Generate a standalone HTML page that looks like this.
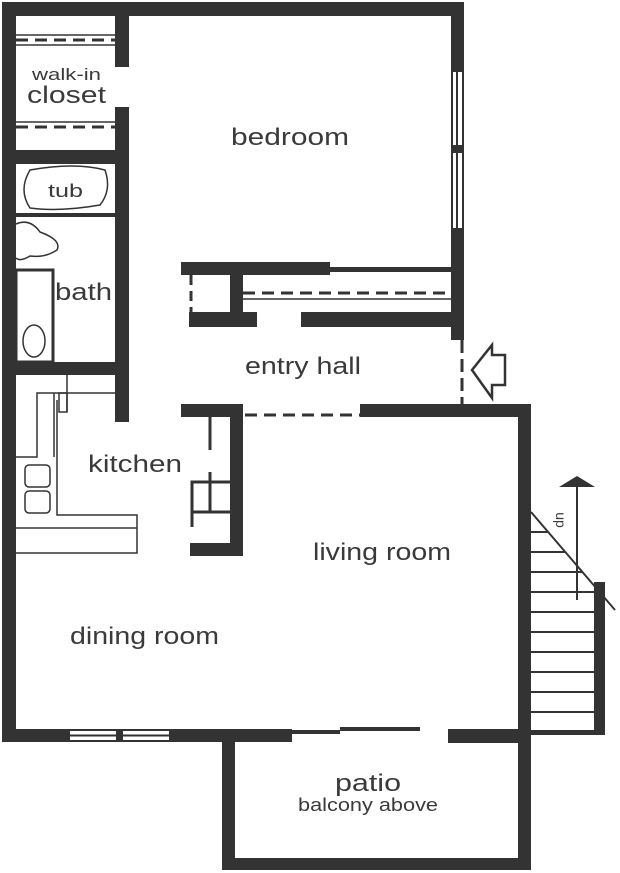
<!DOCTYPE html>
<html><head><style>body{margin:0;background:#fff}svg{display:block}text{font-family:"Liberation Sans",sans-serif;fill:#3a3a3a}</style></head>
<body>
<svg width="620" height="873" viewBox="0 0 620 873">
<g fill="#333">
<rect x="2" y="2" width="462" height="14"/>
<rect x="2" y="2" width="14" height="740"/>
<rect x="451" y="2" width="13" height="338"/>
<rect x="115" y="2" width="14" height="65"/>
<rect x="115" y="107" width="14" height="315"/>
<rect x="16" y="150" width="100" height="14"/>
<rect x="16" y="362" width="100" height="13"/>
<rect x="181" y="262" width="149" height="13"/>
<rect x="230" y="262" width="13" height="65"/>
<rect x="189" y="312" width="68" height="15"/>
<rect x="301" y="312" width="150" height="15"/>
<rect x="330" y="267" width="121" height="5"/>
<rect x="360" y="404" width="171" height="13"/>
<rect x="181" y="404" width="62" height="13"/>
<rect x="230" y="404" width="13" height="152"/>
<rect x="190" y="543" width="53" height="13"/>
<rect x="518" y="404" width="13" height="466"/>
<rect x="2" y="729" width="290" height="13"/>
<rect x="222" y="729" width="13" height="141"/>
<rect x="222" y="858" width="309" height="12"/>
<rect x="448" y="729" width="83" height="14"/>
<rect x="292" y="730" width="48" height="4"/>
<rect x="340" y="727" width="80" height="4"/>
<rect x="594" y="582" width="11" height="153"/>
<rect x="531" y="730" width="74" height="5"/>
</g>
<g fill="#fff"><rect x="453" y="72" width="9" height="73"/><rect x="453" y="153" width="9" height="75"/>
<rect x="70" y="731" width="46" height="9"/><rect x="123" y="731" width="46" height="9"/></g>
<g stroke="#333" stroke-width="2" fill="none">
<line x1="457" y1="72" x2="457" y2="228"/>
<line x1="70" y1="735.5" x2="169" y2="735.5"/>
<line x1="120" y1="731" x2="120" y2="740" stroke-width="3"/>
<line x1="457" y1="145" x2="457" y2="153" stroke-width="8"/>
</g>
<g stroke="#333" stroke-width="3" fill="none" stroke-dasharray="12,7">
<line x1="16" y1="40" x2="115" y2="40"/>
<line x1="16" y1="127" x2="115" y2="127"/>
<line x1="243" y1="293" x2="451" y2="293"/>
<line x1="191" y1="275" x2="191" y2="312" stroke-dasharray="10,6"/>
<line x1="462" y1="340" x2="462" y2="405" stroke-dasharray="13,6"/>
<line x1="245" y1="415" x2="360" y2="415"/>
</g>
<g stroke="#333" stroke-width="1.5" fill="none">
<line x1="16" y1="35" x2="115" y2="35"/><line x1="16" y1="45" x2="115" y2="45"/>
<line x1="16" y1="122" x2="115" y2="122"/>
<line x1="243" y1="299" x2="451" y2="299"/>
<line x1="16" y1="215" x2="115" y2="215" stroke-width="4"/>
<path d="M30 170 Q75 162 105 170 Q112 190 100 205 Q60 212 30 208 Q18 190 30 170Z"/>
<path d="M16 224 Q30 218 40 232 Q62 240 57 250 Q45 258 30 256 Q20 262 16 258"/>
<rect x="16" y="270" width="37" height="92" stroke-width="3"/>
<ellipse cx="34" cy="341" rx="11" ry="16"/>
<line x1="67" y1="375" x2="67" y2="412"/>
<path d="M115 393 H37 V457 H16"/>
<line x1="54" y1="393" x2="54" y2="457"/>
<rect x="59" y="393" width="8" height="19"/>
<path d="M57 400 V515 H137 V553 H16"/>
<line x1="16" y1="528" x2="137" y2="528"/>
<rect x="25" y="465" width="25" height="22" rx="4"/>
<rect x="25" y="491" width="25" height="22" rx="4"/>
<line x1="210" y1="417" x2="210" y2="450" stroke-width="3"/>
<path d="M230 482 H192 V527 M192 512 H230" stroke-width="3"/>
<line x1="210" y1="472" x2="210" y2="512" stroke-width="3"/>
<path d="M472 370 L492 345 V355 H505 V385 H492 V398 Z" stroke-width="2.5"/>
<path d="M531 512 L615 610" stroke-width="2"/>
<line x1="577" y1="485" x2="577" y2="600" stroke-width="2"/>
</g>
<path d="M559 487 L577 476 L595 487 Z" fill="#333"/>
<g stroke="#333" stroke-width="2">
<line x1="531" y1="532" x2="548" y2="532"/><line x1="531" y1="552" x2="565" y2="552"/>
<line x1="531" y1="572" x2="582" y2="572"/><line x1="531" y1="592" x2="597" y2="592"/>
<line x1="531" y1="612" x2="597" y2="612"/><line x1="531" y1="632" x2="597" y2="632"/>
<line x1="531" y1="652" x2="597" y2="652"/><line x1="531" y1="672" x2="597" y2="672"/>
<line x1="531" y1="692" x2="597" y2="692"/><line x1="531" y1="712" x2="597" y2="712"/>
</g>
<text x="556" y="520" font-size="14" transform="rotate(90 556 520)" text-anchor="middle">up</text>
<text x="32" y="80" font-size="17" textLength="69" lengthAdjust="spacingAndGlyphs">walk-in</text>
<text x="27" y="103" font-size="24" textLength="79" lengthAdjust="spacingAndGlyphs">closet</text>
<text x="231" y="145" font-size="24" textLength="118" lengthAdjust="spacingAndGlyphs">bedroom</text>
<text x="48" y="197" font-size="18" textLength="35" lengthAdjust="spacingAndGlyphs">tub</text>
<text x="55" y="300" font-size="24" textLength="57" lengthAdjust="spacingAndGlyphs">bath</text>
<text x="245" y="374" font-size="24" textLength="116" lengthAdjust="spacingAndGlyphs">entry hall</text>
<text x="88" y="472" font-size="24" textLength="94" lengthAdjust="spacingAndGlyphs">kitchen</text>
<text x="313" y="560" font-size="24" textLength="138" lengthAdjust="spacingAndGlyphs">living room</text>
<text x="70" y="644" font-size="24" textLength="149" lengthAdjust="spacingAndGlyphs">dining room</text>
<text x="335" y="791" font-size="24" textLength="66" lengthAdjust="spacingAndGlyphs">patio</text>
<text x="298" y="811" font-size="18" textLength="140" lengthAdjust="spacingAndGlyphs">balcony above</text>
</svg>
</body></html>
